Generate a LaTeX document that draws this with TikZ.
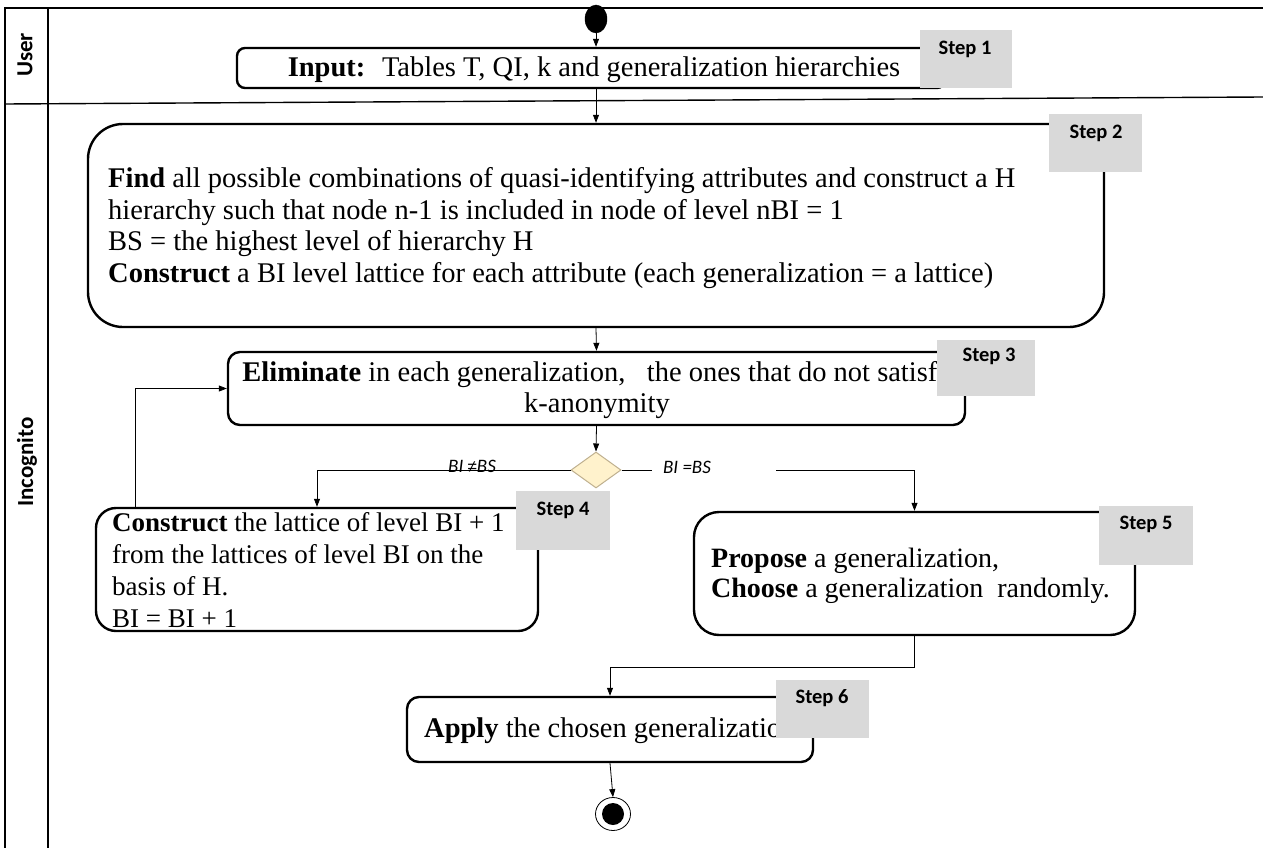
\documentclass[tikz,border=0pt]{standalone}
\usepackage{fontspec}
\setmainfont{Liberation Serif}
\newfontfamily\sfb{Carlito}
\newfontfamily\symf{Liberation Sans}
\usetikzlibrary{arrows.meta,shapes.geometric}
\definecolor{stepgray}{HTML}{D9D9D9}
\definecolor{diafill}{HTML}{FFF2CC}
\definecolor{diadraw}{HTML}{BFB08F}
\begin{document}
\begin{tikzpicture}[x=1pt,y=-1pt,
  frame/.style={line width=1.4pt},
  act/.style={draw, line width=2.4pt, rounded corners=#1, inner sep=0pt},
  act/.default=10pt,
  txt/.style={inner sep=0pt, font=\fontsize{28.5}{31.7}\selectfont},
  conn/.style={line width=0.8pt},
  arr/.style={conn, -{Triangle[length=8pt,width=6pt]}},
  stepbox/.style={fill=stepgray, draw=none, inner sep=0pt},
  steplbl/.style={inner sep=0pt, font=\sfb\bfseries\fontsize{20.5}{22}\selectfont},
  lane/.style={inner sep=0pt, rotate=90, font=\sfb\bfseries\fontsize{23}{25}\selectfont},
  guard/.style={inner sep=0pt, font=\sfb\itshape\fontsize{19}{21}\selectfont}
]
\useasboundingbox (0,0) rectangle (1263,848);
% frame
\draw[frame] (5,848) -- (5,8) -- (1263,8);
\draw[frame] (48,8) -- (48,848);
\draw[frame] (5,104) -- (1263,97);
\node[lane] (lu) at (25,55) {User};
\node[lane] (li) at (27,462) {Incognito};
% start / end
\node[draw, fill=black, ellipse, minimum width=22pt, minimum height=28pt, inner sep=0pt] (start) at (596,19) {};
\node[draw, line width=0.8pt, ellipse, minimum width=35pt, minimum height=33pt, inner sep=0pt] (end) at (613,814) {};
\node[fill=black, circle, minimum size=22pt, inner sep=0pt] (endin) at (end.center) {};
% activities
\node[act=8pt, minimum width=708pt, minimum height=40pt] (b1) at (591,68) {};
\node[txt] (t1) at (594,70) {\textbf{Input:} ~Tables T, QI, k and generalization hierarchies};
\node[act=35pt, minimum width=1016pt, minimum height=203pt] (b2) at (596,225.5) {};
\node[txt, anchor=west, align=left] (t2) at (108,228) {\textbf{Find} all possible combinations of quasi-identifying attributes and construct a H\\
hierarchy such that node n-1 is included in node of level nBI = 1\\
BS = the highest level of hierarchy H\\
\textbf{Construct} a BI level lattice for each attribute (each generalization = a lattice)};
\node[act=12pt, minimum width=737pt, minimum height=73pt] (b3) at (596.5,388.5) {};
\node[txt, align=center] (t3) at (597,390) {\textbf{Eliminate} in each generalization, ~~the ones that do not satisfy\\k-anonymity};
\node[diamond, draw=diadraw, fill=diafill, line width=1pt, minimum width=50pt, minimum height=36pt, inner sep=0pt] (dia) at (596,470) {};
\node[act=20pt, minimum width=442pt, minimum height=123pt] (b4) at (317,569.5) {};
\node[txt, anchor=west, align=left, font=\fontsize{27}{32}\selectfont] (t4) at (112,570) {\textbf{Construct} the lattice of level BI + 1\\
from the lattices of level BI on the\\
basis of H.\\
BI = BI + 1};
\node[act=25pt, minimum width=441pt, minimum height=123pt] (b5) at (914.5,573.5) {};
\node[txt, anchor=west, align=left, font=\fontsize{28}{30}\selectfont] (t5) at (711,576) {\textbf{Propose} a generalization,\\
\textbf{Choose} a generalization ~randomly.};
\node[act=12pt, minimum width=406pt, minimum height=65pt] (b6) at (610,729.5) {};
\node[txt, anchor=west] (t6) at (424,731) {\textbf{Apply} the chosen generalization};
% connectors
\draw[arr] (start.south) -- (start.south |- b1.north);
\draw[arr] (b1.south -| start.south) -- (b2.north -| start.south);
\draw[arr] (b2.south) -- (b3.north);
\draw[arr] (b3.south) -- (dia.north);
\draw[arr] (dia.west) -| (b4.north);
\node[guard] (g1) at (472,466) {BI {\symf\fontsize{17}{19}\selectfont≠}BS};
\coordinate (gapL) at (652,470);
\coordinate (gapR) at (776,470);
\draw[conn] (dia.east) -- (gapL);
\node[guard] (g2) at (687,467) {BI =BS};
\draw[arr] (gapR) -| (b5.north);
\draw[arr] ([xshift=41pt]b4.north west) |- (b3.west);
\coordinate (j56) at (610,667);
\draw[arr] (b5.south) |- (j56) -- (b6.north);
\draw[arr] (b6.south) -- (end.north);
% step labels
\node[stepbox, minimum width=92pt, minimum height=58pt] (s1) at (966,59) {};
\node[steplbl] (l1) at (965,49) {Step 1};
\node[stepbox, minimum width=93pt, minimum height=58pt] (s2) at (1095.5,143) {};
\node[steplbl] (l2) at (1096,133) {Step 2};
\node[stepbox, minimum width=98pt, minimum height=56pt] (s3) at (986,368) {};
\node[steplbl] (l3) at (989,356) {Step 3};
\node[stepbox, minimum width=94pt, minimum height=59pt] (s4) at (563,520.5) {};
\node[steplbl] (l4) at (563,510) {Step 4};
\node[stepbox, minimum width=94pt, minimum height=59pt] (s5) at (1146,535.5) {};
\node[steplbl] (l5) at (1146,524) {Step 5};
\node[stepbox, minimum width=93pt, minimum height=58pt] (s6) at (822.5,709) {};
\node[steplbl] (l6) at (822,698) {Step 6};
\end{tikzpicture}
\end{document}
